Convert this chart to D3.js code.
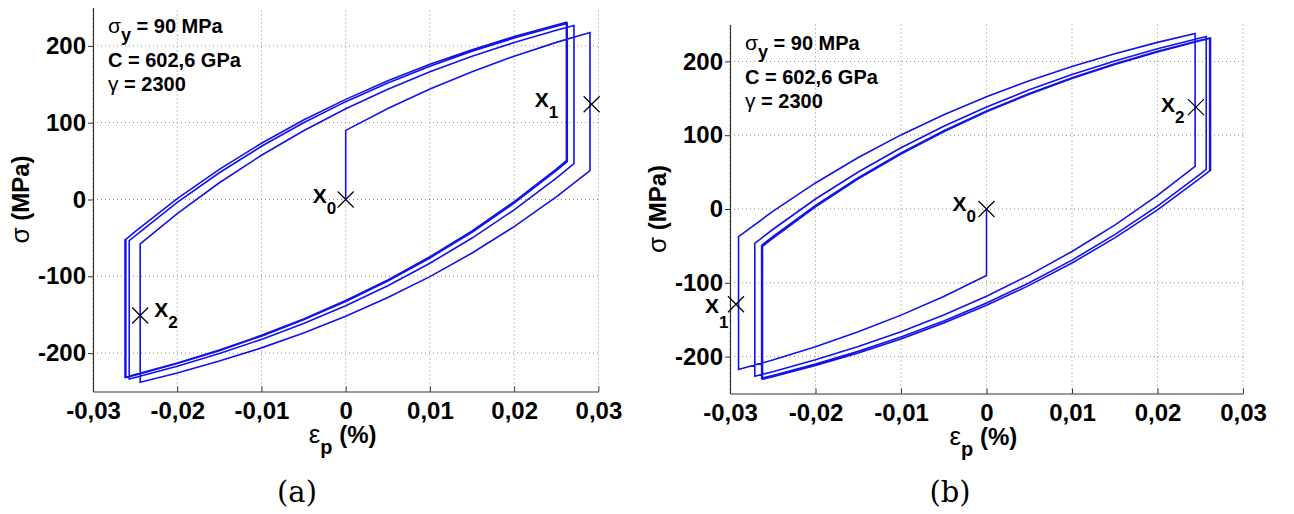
<!DOCTYPE html>
<html><head><meta charset="utf-8">
<script src="https://cdn.jsdelivr.net/npm/d3@7"></script>
<style>
body{margin:0;background:#fff}
svg{display:block}
</style>
</head><body>
<svg id="chart" width="1294" height="514"></svg>
<script>
// ---------- data ----------
const xTicks = [-0.03, -0.02, -0.01, 0, 0.01, 0.02, 0.03];
const xTickLabels = ["-0,03", "-0,02", "-0,01", "0", "0,01", "0,02", "0,03"];
const yTicks = [-200, -100, 0, 100, 200];
const yTickLabels = ["-200", "-100", "0", "100", "200"];
const paramLines = ["= 90 MPa", "C = 602,6 GPa", "= 2300"];
const captions = ["(a)", "(b)"];

// panel (a): plastic strain (%) vs stress (MPa)
const loopA = [
 [0,0],[0,90],
 [0.005,118.5],[0.010,143.8],[0.015,166.4],[0.020,186.6],[0.025,204.6],[0.029,217.5],
 [0.029,37.5],
 [0.025,3.3],[0.020,-35.3],[0.015,-69.7],[0.010,-100.4],[0.005,-127.7],[0,-152.1],[-0.005,-173.8],[-0.010,-193.2],[-0.015,-210.4],[-0.020,-225.8],[-0.0244,-237.9],
 [-0.0244,-57.9],
 [-0.020,-18.4],[-0.015,21.8],[-0.010,57.6],[-0.005,89.6],[0,118.1],[0.005,143.5],[0.010,166.2],[0.015,186.4],[0.020,204.4],[0.025,220.4],[0.0271,226.6],
 [0.0271,46.6],
 [0.025,27.8],[0.020,-13.5],[0.015,-50.2],[0.010,-83.0],[0.005,-112.2],[0,-138.3],[-0.005,-161.5],[-0.010,-182.2],[-0.015,-200.6],[-0.020,-217.1],[-0.025,-231.7],[-0.0257,-233.7],
 [-0.0257,-53.7],
 [-0.025,-47.2],[-0.020,-3.8],[-0.015,34.8],[-0.010,69.3],[-0.005,100.0],[0,127.4],[0.005,151.8],[0.010,173.5],[0.015,192.9],[0.020,210.2],[0.025,225.6],[0.0263,229.3],
 [0.0263,49.3],
 [0.025,37.5],[0.020,-4.8],[0.015,-42.6],[0.010,-76.1],[0.005,-106.1],[0,-132.8],[-0.005,-156.6],[-0.010,-177.9],[-0.015,-196.8],[-0.020,-213.6],[-0.025,-228.7],[-0.0261,-231.8],
 [-0.0261,-51.8],
 [-0.025,-41.7],[-0.020,1.1],[-0.015,39.2],[-0.010,73.2],[-0.005,103.5],[0,130.4],[0.005,154.5],[0.010,176.0],[0.015,195.1],[0.020,212.1],[0.025,227.3],[0.0262,230.7],
 [0.0262,50.7],
 [0.025,39.7],[0.020,-2.8],[0.015,-40.8],[0.010,-74.5],[0.005,-104.7],[0,-131.6],[-0.005,-155.5],[-0.010,-176.9],[-0.015,-195.9],[-0.020,-212.8],[-0.025,-228.0],[-0.0262,-231.4],
 [-0.0262,-51.4]
];
const markersA = [
 {sub:"0", eps:0, sig:0},
 {sub:"1", eps:0.0292, sig:124},
 {sub:"2", eps:-0.0244, sig:-151}
];

// panel (b)
const loopB = [
 [0,0],[0,-90],
 [-0.005,-118.5],[-0.010,-143.8],[-0.015,-166.4],[-0.020,-186.6],[-0.025,-204.6],[-0.029,-217.5],
 [-0.029,-37.5],
 [-0.025,-3.3],[-0.020,35.3],[-0.015,69.7],[-0.010,100.4],[-0.005,127.7],[0,152.1],[0.005,173.8],[0.010,193.2],[0.015,210.4],[0.020,225.8],[0.0244,237.9],
 [0.0244,57.9],
 [0.020,18.4],[0.015,-21.8],[0.010,-57.6],[0.005,-89.6],[0,-118.1],[-0.005,-143.5],[-0.010,-166.2],[-0.015,-186.4],[-0.020,-204.4],[-0.025,-220.4],[-0.0271,-226.6],
 [-0.0271,-46.6],
 [-0.025,-27.8],[-0.020,13.5],[-0.015,50.2],[-0.010,83.0],[-0.005,112.2],[0,138.3],[0.005,161.5],[0.010,182.2],[0.015,200.6],[0.020,217.1],[0.025,231.7],[0.0257,233.7],
 [0.0257,53.7],
 [0.025,47.2],[0.020,3.8],[0.015,-34.8],[0.010,-69.3],[0.005,-100.0],[0,-127.4],[-0.005,-151.8],[-0.010,-173.5],[-0.015,-192.9],[-0.020,-210.2],[-0.025,-225.6],[-0.0263,-229.3],
 [-0.0263,-49.3],
 [-0.025,-37.5],[-0.020,4.8],[-0.015,42.6],[-0.010,76.1],[-0.005,106.1],[0,132.8],[0.005,156.6],[0.010,177.9],[0.015,196.8],[0.020,213.6],[0.025,228.7],[0.0261,231.8],
 [0.0261,51.8],
 [0.025,41.7],[0.020,-1.1],[0.015,-39.2],[0.010,-73.2],[0.005,-103.5],[0,-130.4],[-0.005,-154.5],[-0.010,-176.0],[-0.015,-195.1],[-0.020,-212.1],[-0.025,-227.3],[-0.0262,-230.7],
 [-0.0262,-50.7],
 [-0.025,-39.7],[-0.020,2.8],[-0.015,40.8],[-0.010,74.5],[-0.005,104.7],[0,131.6],[0.005,155.5],[0.010,176.9],[0.015,195.9],[0.020,212.8],[0.025,228.0],[0.0262,231.4],
 [0.0262,51.4]
];
const markersB = [
 {sub:"0", eps:0, sig:0},
 {sub:"1", eps:-0.0293, sig:-129},
 {sub:"2", eps:0.0245, sig:138}
];

// ---------- layout ----------
const SANS = "'Liberation Sans', Arial, Helvetica, sans-serif";
const panels = [
 {loop: loopA, markers: markersA, caption: captions[0],
  x0: 93, x1: 598.4, yTop: 7.5, yBot: 391.5, capX: 297,
  labelOff: [[-33,3,11],[-57,3,11],[14,2,11]]},
 {loop: loopB, markers: markersB, caption: captions[1],
  x0: 730, x1: 1243, yTop: 24.5, yBot: 393.5, capX: 950,
  labelOff: [[-34,2,11],[-31,9,15],[-35,5,11]]}
];

const svg = d3.select("#chart");

panels.forEach(p => {
  const x = d3.scaleLinear().domain([-0.03, 0.03]).range([p.x0, p.x1]);
  const y = d3.scaleLinear().domain([-250, 250]).range([p.yBot, p.yTop]);
  const g = svg.append("g").style("font-family", SANS);

  // grid
  g.append("g").selectAll("line").data(xTicks).join("line")
    .attr("x1", d => x(d)).attr("x2", d => x(d))
    .attr("y1", p.yBot).attr("y2", p.yTop)
    .attr("stroke", "#8a8a8a").attr("stroke-width", 1).attr("stroke-dasharray", "1,3");
  g.append("g").selectAll("line").data(yTicks).join("line")
    .attr("x1", p.x0).attr("x2", p.x1)
    .attr("y1", d => y(d)).attr("y2", d => y(d))
    .attr("stroke", "#8a8a8a").attr("stroke-width", 1).attr("stroke-dasharray", "1,3");

  // axes
  const xAxis = d3.axisBottom(x).tickValues(xTicks).tickFormat((d, i) => xTickLabels[i])
    .tickSizeInner(-5).tickSizeOuter(0).tickPadding(10);
  const ax = g.append("g").attr("transform", `translate(0,${p.yBot})`).call(xAxis);
  ax.select(".domain").attr("stroke", "#333").attr("stroke-width", 1.2);
  ax.selectAll(".tick line").attr("stroke", "#333");
  ax.selectAll(".tick text").style("font-size", "24px").style("font-weight", "bold")
    .style("font-family", SANS).attr("fill", "#000");

  const yAxis = d3.axisLeft(y).tickValues(yTicks).tickFormat((d, i) => yTickLabels[i])
    .tickSizeInner(5).tickSizeOuter(0).tickPadding(2);
  const ay = g.append("g").attr("transform", `translate(${p.x0},0)`).call(yAxis);
  ay.select(".domain").attr("stroke", "#333").attr("stroke-width", 1.2);
  ay.selectAll(".tick line").attr("stroke", "#333");
  ay.selectAll(".tick text").style("font-size", "24px").style("font-weight", "bold")
    .style("font-family", SANS).attr("fill", "#000");

  // curve
  const line = d3.line().x(d => x(d[0])).y(d => y(d[1]));
  g.append("path").datum(p.loop).attr("d", line)
    .attr("fill", "none").attr("stroke", "#1212ea").attr("stroke-width", 1.6)
    .attr("stroke-linejoin", "miter");

  // markers
  const mk = g.append("g").selectAll("g").data(p.markers).join("g")
    .attr("transform", d => `translate(${x(d.eps)},${y(d.sig)})`);
  mk.append("path").attr("d", "M-8,-8L8,8M-8,8L8,-8")
    .attr("stroke", "#000").attr("stroke-width", 1.2);
  mk.append("text").attr("x", (d, i) => p.labelOff[i][0]).attr("y", (d, i) => p.labelOff[i][1])
    .style("font-size", "21px").style("font-weight", "bold")
    .text("X")
    .append("tspan").attr("dy", (d, i) => p.labelOff[i][2]).style("font-size", "17px")
    .text(d => d.sub);

  // parameters text
  const tx = p.x0 + 15;
  const t1 = g.append("text").attr("x", tx).attr("y", p.yTop + 25.5).style("font-size", "20px").style("font-weight", "bold");
  t1.append("tspan").style("font-weight", "normal").style("font-size", "21px").text("σ");
  t1.append("tspan").attr("dy", 8).style("font-size", "18px").text("y");
  t1.append("tspan").attr("dy", -8).text(" " + paramLines[0]);
  g.append("text").attr("x", tx).attr("y", p.yTop + 59.5).style("font-size", "20px").style("font-weight", "bold")
    .text(paramLines[1]);
  const t3 = g.append("text").attr("x", tx).attr("y", p.yTop + 83.5).style("font-size", "20px").style("font-weight", "bold");
  t3.append("tspan").style("font-weight", "normal").style("font-size", "21px").text("γ");
  t3.append("tspan").text(" " + paramLines[2]);

  // axis labels
  const yl = g.append("text").attr("transform", `translate(${p.x0 - 64},${(p.yTop + p.yBot) / 2}) rotate(-90)`)
    .attr("text-anchor", "middle").style("font-size", "24px").style("font-weight", "bold");
  yl.append("tspan").style("font-weight", "normal").style("font-size", "26px").text("σ");
  yl.append("tspan").text(" (MPa)");

  const xc = x(0);
  const xl = g.append("text").attr("x", xc - 37).attr("y", p.yBot + 51.5).style("font-size", "24px").style("font-weight", "bold");
  xl.append("tspan").style("font-weight", "normal").style("font-size", "26px").text("ε");
  xl.append("tspan").attr("dy", 11).style("font-size", "20px").text("p");
  xl.append("tspan").attr("dy", -11).text(" (%)");

  // caption
  svg.append("text").attr("x", p.capX).attr("y", 502).attr("text-anchor", "middle")
    .style("font-family", "'DejaVu Serif', 'Liberation Serif', serif").style("font-size", "29px")
    .attr("fill", "#000").text(p.caption);
});
</script>
</body></html>
